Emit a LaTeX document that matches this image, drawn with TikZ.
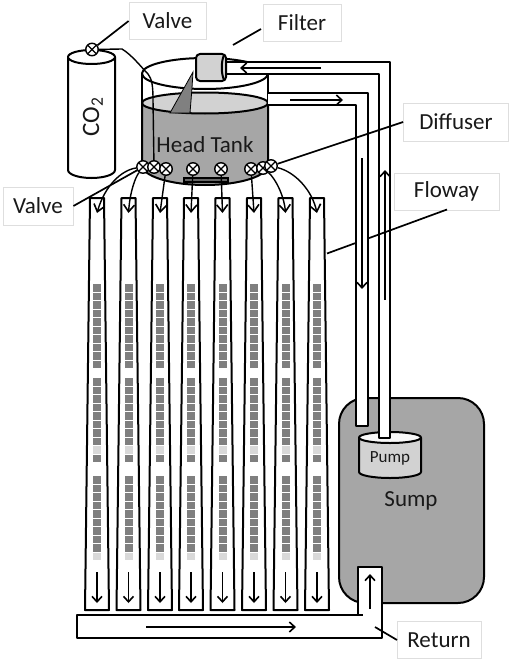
\documentclass[tikz,border=0pt]{standalone}
\usepackage{fontspec}
\setmainfont{Carlito}
\usetikzlibrary{arrows.meta}
\definecolor{water}{HTML}{A6A6A6}
\definecolor{lid}{HTML}{D2D2D2}
\definecolor{algae}{HTML}{7F7F7F}
\definecolor{algaepale}{HTML}{D9D9D9}
\definecolor{boxline}{HTML}{DEDEDE}
\tikzset{
  wall/.style={draw=black,line width=2pt,line join=round},
  lead/.style={draw=black,line width=1.7pt},
  tube/.style={draw=black,line width=1.4pt},
  flow/.style={draw=black,line width=1.6pt,-{Straight Barb[length=5.5pt,width=10pt,line width=1.6pt]}},
  feed/.style={draw=black,line width=1.4pt,-{Straight Barb[length=7pt,width=11pt,line width=1.6pt]}},
  lab/.style={draw=boxline,line width=.8pt,fill=white,font=\fontsize{23}{25}\selectfont,text=black!90,inner sep=0pt},
  valve/.style={circle,draw=black,line width=1.4pt,fill=white,minimum size=12.5pt,inner sep=0pt,
    path picture={\draw[line width=1.1pt,black]
      (path picture bounding box.south west)--(path picture bounding box.north east)
      (path picture bounding box.north west)--(path picture bounding box.south east);}},
}
\newcommand{\flowway}[2]{%
  \coordinate (#2) at (#1,198);
  \draw[wall,fill=white] (#1-7,198) -- (#1+7,198) -- (#1+12,610) -- (#1-12,610) -- cycle;
  \foreach \k in {0,...,9}{\fill[algae] (#1-4,284+8.5*\k) rectangle (#1+4,291.6+8.5*\k);}
  \foreach \k in {0,...,9}{
    \ifnum\k=8 \def\c{algaepale}\else\def\c{algae}\fi
    \fill[\c] (#1-4,378+8.5*\k) rectangle (#1+4,385.6+8.5*\k);}
  \foreach \k in {0,...,9}{
    \ifnum\k=9 \def\c{algaepale}\else\def\c{algae}\fi
    \fill[\c] (#1-4,476+8.5*\k) rectangle (#1+4,483.6+8.5*\k);}
  \draw[flow] (#1,572) -- (#1,603);
}
\begin{document}
\begin{tikzpicture}[x=1pt,y=-1pt]
\useasboundingbox (0,0) rectangle (510,661);
% Sump
\draw[wall,fill=water,rounded corners=26pt] (339,398) rectangle (484,603);
\node[font=\fontsize{23}{25}\selectfont,text=black!90] (sump) at (411,501) {Sump};
% Pump
\draw[wall,fill=lid] (359,437.5) -- (359,472) arc[start angle=180,end angle=0,x radius=31,y radius=6] -- (421,437.5);
\draw[wall,fill=white!85!lid] (390,437.5) ellipse[x radius=31,y radius=5.5];
\node[font=\fontsize{17}{19}\selectfont,text=black!90] (pump) at (390,458) {Pump};
% Floways
\flowway{97}{f1}
\flowway{128.5}{f2}
\flowway{160}{f3}
\flowway{191}{f4}
\flowway{222.5}{f5}
\flowway{254}{f6}
\flowway{285.5}{f7}
\flowway{317}{f8}
% Return
\draw[wall,fill=white] (77,615) -- (358,615) -- (358,567) -- (382,567) -- (382,638) -- (77,638) -- cycle;
\fill[white] (359.1,612) rectangle (380.9,620);
\draw[wall] (358,615) -- (363,615);
\draw[flow] (146,627) -- (296,627);
\draw[flow] (370,609) -- (370,574);
% Tank
\draw[wall] (205,73.5) ellipse[x radius=63,y radius=15.5];
\fill[water] (142,103) -- (142,165) arc[start angle=180,end angle=0,x radius=63,y radius=20] -- (268,103) -- cycle;
\draw[wall] (142,103) -- (142,165) arc[start angle=180,end angle=0,x radius=63,y radius=20] -- (268,103);
\draw[wall,fill=lid] (205,103) ellipse[x radius=63,y radius=10.5];
\draw[wall] (142,73.5) -- (142,103) (268,73.5) -- (268,103);
\fill[black!50,draw=black,line width=.8pt] (193,72) -- (170,113) -- (190,113) -- (192,88) -- cycle;
\node[font=\fontsize{23}{25}\selectfont,text=black!90] (headtank) at (205,145) {Head Tank};
\fill[black!60,draw=black,line width=1.4pt] (184,178) rectangle (228,182);
% Right pipe
\fill[white] (226,62) -- (390,62) -- (390,438) -- (379,438) -- (379,74) -- (226,74) -- cycle;
\draw[wall] (226,62) -- (390,62) -- (390,438) -- (379,438) -- (379,74) -- (226,74);
% Floway leader passes over the right pipe and under the left one
\node[lab,minimum width=105pt,minimum height=37pt] (lfloway) at (446.5,191.5) {Floway};
\coordinate (flowayedge) at (327,253.5);
\coordinate (flowaylead) at (447,209.5);
\draw[lead] (flowaylead) -- (flowayedge);
% Left pipe
\fill[white] (268,93) -- (368,93) -- (368,426) -- (356,426) -- (356,105) -- (268,105) -- cycle;
\draw[wall] (268,93) -- (368,93) -- (368,426) -- (356,426) -- (356,105) -- (268,105);
\draw[flow] (321,68) -- (240,68);
\draw[flow] (290,100) -- (343,100);
\draw[flow] (362,158) -- (362,289);
\draw[flow] (385,300) -- (385,170);
% Filter
\draw[wall,fill=lid,rounded corners=4pt] (196,54) -- (226,54) -- (226,81) -- (196,81) -- cycle;
\draw[wall] (224,55) .. controls (221,62) and (221,73) .. (224,80);
% CO2
\draw[wall,fill=white] (68,57) -- (68,170) arc[start angle=180,end angle=0,x radius=23.5,y radius=8] -- (115,57);
\draw[wall,fill=white] (91.5,57) ellipse[x radius=23.5,y radius=7];
\node[rotate=90,font=\fontsize{25}{27}\selectfont,text=black!90] (co2) at (93,117) {CO\textsubscript{2}};
% Valves
\node[valve] (vc) at (92,49.5) {};
\node[valve] (v1) at (143,167) {};
\node[valve] (v2) at (154,167) {};
\node[valve] (v3) at (166,169) {};
\node[valve] (v4) at (193,169) {};
\node[valve] (v5) at (221,169) {};
\node[valve] (v6) at (251,169) {};
\node[valve] (v7) at (263,168) {};
\node[valve] (v8) at (271,166) {};
% CO2 line
\draw[tube] (vc) -- (122,49) .. controls (132,55) and (142,68) .. (148,74) .. controls (152,79) and (153,86) .. (153,100) -- (v2);
% Feed lines
\draw[feed] (v1) .. controls (122,170) and (105,185) .. (97,213);
\draw[feed] (v1) .. controls (135,178) and (130,192) .. (128.5,213);
\draw[feed] (v3) -- (160,213);
\draw[feed] (v4) -- (191,213);
\draw[feed] (v5) -- (222.5,213);
\draw[feed] (v6) -- (254,213);
\draw[feed] (v7) .. controls (275,178) and (284,195) .. (285.5,213);
\draw[feed] (v8) .. controls (295,172) and (312,190) .. (317,213);
% Labels
\node[lab,minimum width=77pt,minimum height=37pt] (lvalvetop) at (167.5,21) {Valve};
\node[lab,minimum width=78pt,minimum height=37pt] (lfilter) at (302,22.5) {Filter};
\node[lab,minimum width=105pt,minimum height=38pt] (ldiff) at (456,122) {Diffuser};
\node[lab,minimum width=70pt,minimum height=38pt] (lvalveleft) at (38,206) {Valve};
\node[lab,minimum width=84pt,minimum height=37pt] (lreturn) at (439,640) {Return};
% Leaders
\coordinate (filterlead) at (233,45);
\coordinate (filterfoot) at (261,29);
\coordinate (returnlead) at (375,627);
\coordinate (returnfoot) at (397,640);
\draw[lead] (lvalvetop.west) -- (vc);
\draw[lead] (filterfoot) -- (filterlead);
\draw[lead] (ldiff.west) -- (v8);
\draw[lead] (lvalveleft.east) -- (v1);
\draw[lead] (returnfoot) -- (returnlead);
\end{tikzpicture}
\end{document}
